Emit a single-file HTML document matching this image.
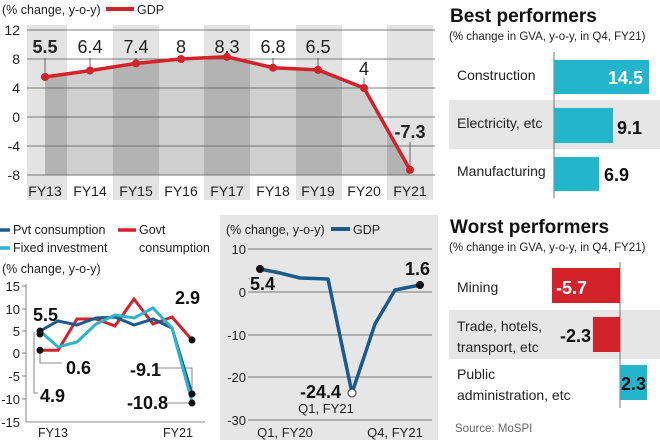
<!DOCTYPE html>
<html><head><meta charset="utf-8"><style>
html,body{margin:0;padding:0;background:#fff;}
svg{display:block;font-family:"Liberation Sans",sans-serif;}
.t{fill:#222;}
.b{font-weight:bold;fill:#111;}
</style></head><body>
<svg width="660" height="440" viewBox="0 0 660 440" xmlns="http://www.w3.org/2000/svg">
<rect width="660" height="440" fill="#fff"/>
<!-- TOP CHART -->
<g>
<rect x="27" y="25" width="40" height="175" fill="#e3e3e3"/>
<rect x="113" y="25" width="46" height="175" fill="#e3e3e3"/>
<rect x="204" y="25" width="46" height="175" fill="#e3e3e3"/>
<rect x="296" y="25" width="46" height="175" fill="#e3e3e3"/>
<rect x="387" y="25" width="46" height="175" fill="#e3e3e3"/>
<clipPath id="ca"><polygon points="45,77 90,70.6 136,63.4 181,59 227,56.8 273,67.7 318,69.9 364,88 410,169.9 410,175 45,175"/></clipPath>
<g clip-path="url(#ca)">
<rect x="27" y="50" width="410" height="125" fill="#cfcfcf"/>
<rect x="27" y="50" width="40" height="125" fill="#b3b3b3"/>
<rect x="113" y="50" width="46" height="125" fill="#b3b3b3"/>
<rect x="204" y="50" width="46" height="125" fill="#b3b3b3"/>
<rect x="296" y="50" width="46" height="125" fill="#b3b3b3"/>
<rect x="387" y="50" width="46" height="125" fill="#b3b3b3"/>
</g>
<g stroke="#555" stroke-width="0.8">
<line x1="27" y1="30" x2="435" y2="30"/><line x1="27" y1="59" x2="435" y2="59"/>
<line x1="27" y1="88" x2="435" y2="88"/><line x1="27" y1="117" x2="435" y2="117"/>
<line x1="27" y1="146" x2="435" y2="146"/><line x1="27" y1="175" x2="435" y2="175"/>
</g>
<rect x="0" y="176" width="27" height="24" fill="#fff"/>
<g class="t" font-size="14" text-anchor="end">
<text x="20" y="35">12</text><text x="20" y="64">8</text><text x="20" y="93">4</text>
<text x="20" y="122">0</text><text x="20" y="151">-4</text><text x="20" y="180">-8</text>
</g>
<g class="t" font-size="14" text-anchor="middle">
<text x="45" y="196">FY13</text><text x="90" y="196">FY14</text><text x="136" y="196">FY15</text>
<text x="181" y="196">FY16</text><text x="227" y="196">FY17</text><text x="273" y="196">FY18</text>
<text x="318" y="196">FY19</text><text x="364" y="196">FY20</text><text x="410" y="196">FY21</text>
</g>
<g stroke="#444" stroke-width="0.8">
<line x1="45" y1="77" x2="45" y2="58"/><line x1="90" y1="70" x2="90" y2="58"/>
<line x1="136" y1="63" x2="136" y2="58"/><line x1="273" y1="67" x2="273" y2="58"/>
<line x1="318" y1="69" x2="318" y2="58"/><line x1="364" y1="88" x2="364" y2="78"/>
<line x1="410" y1="170" x2="410" y2="142"/>
</g>
<polyline points="45,77 90,70.6 136,63.4 181,59 227,56.8 273,67.7 318,69.9 364,88 410,169.9" fill="none" stroke="#d3222a" stroke-width="3.5" stroke-linejoin="round"/>
<g fill="#d3222a">
<circle cx="45" cy="77" r="4"/><circle cx="90" cy="70.6" r="4"/><circle cx="136" cy="63.4" r="4"/>
<circle cx="181" cy="59" r="4"/><circle cx="227" cy="56.8" r="4"/><circle cx="273" cy="67.7" r="4"/>
<circle cx="318" cy="69.9" r="4"/><circle cx="364" cy="88" r="4"/><circle cx="410" cy="169.9" r="4"/>
</g>
<g class="t" font-size="18" text-anchor="middle">
<text x="45" y="53" font-weight="bold">5.5</text><text x="90" y="53">6.4</text><text x="136" y="53">7.4</text>
<text x="181" y="53">8</text><text x="227" y="53">8.3</text><text x="273" y="53">6.8</text>
<text x="318" y="53">6.5</text><text x="364" y="75">4</text>
<text x="410" y="138" font-weight="bold">-7.3</text>
</g>
<text x="2" y="14" class="t" font-size="12.5">(% change, y-o-y)</text>
<line x1="106" y1="9" x2="134" y2="9" stroke="#d3222a" stroke-width="4"/>
<text x="137" y="14" class="t" font-size="12.5">GDP</text>
</g>
<!-- BOTTOM LEFT -->
<g>
<line x1="0" y1="230" x2="10" y2="230" stroke="#1b5a8a" stroke-width="3.5"/>
<text x="13" y="234" class="t" font-size="12.5">Pvt consumption</text>
<line x1="0" y1="248" x2="10" y2="248" stroke="#2cb5cb" stroke-width="3.5"/>
<text x="13" y="252" class="t" font-size="12.5">Fixed investment</text>
<line x1="118" y1="230" x2="136" y2="230" stroke="#d3222a" stroke-width="3.5"/>
<text x="139" y="234" class="t" font-size="12.5">Govt</text>
<text x="139" y="252" class="t" font-size="12.5">consumption</text>
<text x="2" y="273" class="t" font-size="12.5">(% change, y-o-y)</text>
<g class="t" font-size="13" text-anchor="end">
<text x="20" y="291">15</text><text x="20" y="314">10</text><text x="20" y="336">5</text>
<text x="20" y="358">0</text><text x="20" y="381">-5</text><text x="20" y="404">-10</text><text x="20" y="427">-15</text>
</g>
<g stroke="#666" stroke-width="0.8">
<line x1="26" y1="284" x2="26" y2="422"/><line x1="26" y1="422" x2="205" y2="422"/>
<line x1="22" y1="286" x2="26" y2="286"/><line x1="22" y1="309" x2="26" y2="309"/><line x1="22" y1="331" x2="26" y2="331"/>
<line x1="22" y1="353" x2="26" y2="353"/><line x1="22" y1="376" x2="26" y2="376"/><line x1="22" y1="399" x2="26" y2="399"/>
</g>
<g class="t" font-size="12.5" text-anchor="middle"><text x="53" y="437">FY13</text><text x="178" y="437">FY21</text></g>
<g stroke="#666" stroke-width="0.8" fill="none">
<polyline points="40,350 40,363 62,363"/><polyline points="34,332 34,393 38,393"/>
<line x1="192" y1="341" x2="192" y2="336"/><polyline points="155,368 192,368 192,395"/>
<line x1="163" y1="403" x2="192" y2="403"/>
</g>
<polyline points="40,350.3 58,350.3 77,319 96,319 115,326 134,299 153,324 172,317 192,340" fill="none" stroke="#d3222a" stroke-width="3"/>
<polyline points="40,331 58,321 77,325 96,318 115,317 134,325 153,319 172,328 192,394" fill="none" stroke="#1b5a8a" stroke-width="3"/>
<polyline points="40,331 58,347 77,342 96,324 115,315 134,318 153,308 172,328 192,402" fill="none" stroke="#2cb5cb" stroke-width="3"/>
<g fill="#111">
<circle cx="40" cy="331" r="3.5"/><circle cx="40" cy="334" r="3.5"/><circle cx="40" cy="350.3" r="3.5"/>
<circle cx="192" cy="340" r="3.5"/><circle cx="192" cy="394" r="3.5"/><circle cx="192" cy="403" r="3.5"/>
</g>
<g class="b" font-size="18">
<text x="33" y="321">5.5</text><text x="66" y="374">0.6</text><text x="40" y="402">4.9</text>
<text x="175" y="304">2.9</text><text x="130" y="376">-9.1</text><text x="127" y="409">-10.8</text>
</g>
</g>
<!-- MIDDLE -->
<g>
<rect x="220" y="215" width="218" height="225" fill="#e6e6e6"/>
<text x="226" y="234" class="t" font-size="12.5">(% change, y-o-y)</text>
<line x1="331" y1="229" x2="350" y2="229" stroke="#1b5a8a" stroke-width="4"/>
<text x="353" y="234" class="t" font-size="12.5">GDP</text>
<g stroke="#555" stroke-width="0.8">
<line x1="248" y1="249" x2="432" y2="249"/><line x1="248" y1="292" x2="432" y2="292"/>
<line x1="248" y1="335" x2="432" y2="335"/><line x1="248" y1="377" x2="432" y2="377"/><line x1="248" y1="420" x2="432" y2="420"/>
</g>
<g class="t" font-size="13" text-anchor="end">
<text x="246" y="254">10</text><text x="246" y="297">0</text><text x="246" y="340">-10</text>
<text x="246" y="382">-20</text><text x="246" y="425">-30</text>
</g>
<polyline points="260,269 280,273 300,278 328,279 352,393 375,324 395,290 420,285" fill="none" stroke="#1b5a8a" stroke-width="3.5" stroke-linejoin="round"/>
<circle cx="260" cy="269" r="4" fill="#111"/><circle cx="420" cy="285" r="4" fill="#111"/>
<circle cx="352" cy="393" r="4" fill="#fff" stroke="#333"/>
<g class="b" font-size="18">
<text x="250" y="290">5.4</text><text x="405" y="275">1.6</text><text x="300" y="398">-24.4</text>
</g>
<g class="t" font-size="13" text-anchor="middle">
<text x="326" y="413">Q1, FY21</text><text x="285" y="437">Q1, FY20</text><text x="395" y="437">Q4, FY21</text>
</g>
</g>
<!-- RIGHT -->
<g>
<text x="450" y="22" font-size="19" font-weight="bold" fill="#111">Best performers</text>
<text x="449" y="40" class="t" font-size="11.5">(% change in GVA, y-o-y, in Q4, FY21)</text>
<rect x="449" y="100" width="211" height="49" fill="#e6e6e6"/>
<line x1="554" y1="52" x2="554" y2="198" stroke="#555" stroke-width="0.8"/>
<rect x="554" y="60" width="95" height="34" fill="#23b5cb"/>
<rect x="554" y="108" width="59" height="35" fill="#23b5cb"/>
<rect x="554" y="157" width="45" height="34" fill="#23b5cb"/>
<g class="t" font-size="14"><text x="457" y="80">Construction</text><text x="457" y="128">Electricity, etc</text><text x="457" y="176">Manufacturing</text></g>
<text x="643" y="84" font-size="18" font-weight="bold" fill="#fff" text-anchor="end">14.5</text>
<text x="617" y="134" font-size="18" font-weight="bold" fill="#111">9.1</text>
<text x="604" y="181" font-size="18" font-weight="bold" fill="#111">6.9</text>

<text x="450" y="233" font-size="19" font-weight="bold" fill="#111">Worst performers</text>
<text x="449" y="251" class="t" font-size="11.5">(% change in GVA, y-o-y, in Q4, FY21)</text>
<rect x="449" y="310" width="211" height="49" fill="#e6e6e6"/>
<line x1="620" y1="262" x2="620" y2="408" stroke="#555" stroke-width="0.8"/>
<rect x="552" y="268" width="68" height="35" fill="#d3222a"/>
<rect x="593" y="317" width="27" height="35" fill="#d3222a"/>
<rect x="620" y="365" width="27" height="35" fill="#23b5cb"/>
<g class="t" font-size="14">
<text x="457" y="292">Mining</text><text x="457" y="331">Trade, hotels,</text><text x="457" y="352">transport, etc</text>
<text x="457" y="379">Public</text><text x="457" y="400">administration, etc</text>
</g>
<text x="556" y="294" font-size="18" font-weight="bold" fill="#fff">-5.7</text>
<text x="560" y="342" font-size="18" font-weight="bold" fill="#111">-2.3</text>
<text x="621" y="390" font-size="18" font-weight="bold" fill="#111">2.3</text>
<text x="455" y="432" font-size="11.5" fill="#666">Source: MoSPI</text>
</g>
</svg>
</body></html>
